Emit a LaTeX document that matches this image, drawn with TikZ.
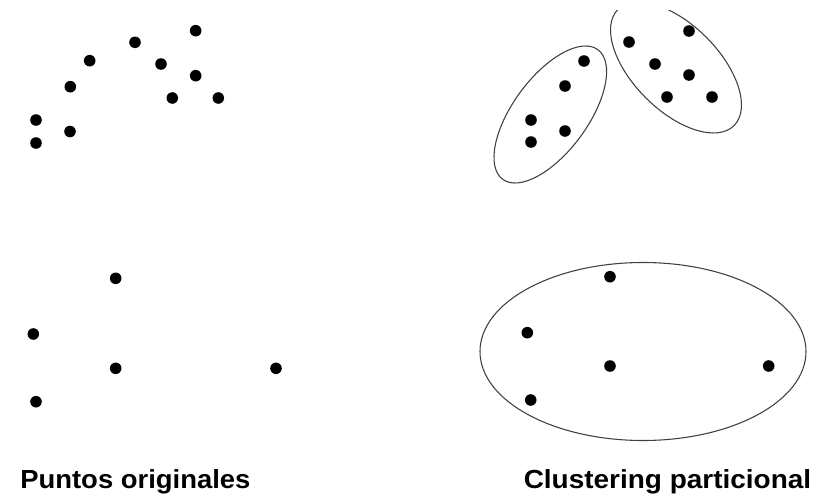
\documentclass[tikz,border=0pt]{standalone}
\usepackage{fontspec}
\setmainfont{Liberation Sans}
\begin{document}
\begin{tikzpicture}[x=0.75pt,y=-0.75pt,
  dot/.style={circle,fill=black,inner sep=0pt,minimum size=8.7pt},
  hull/.style={draw=black!75,line width=0.8pt},
  caption/.style={anchor=base west,inner sep=0pt,font=\bfseries\fontsize{19.6pt}{22pt}\selectfont}]
\useasboundingbox[fill=white] (0,0) rectangle (819,500);

% ---- original points ----
\foreach \n/\x/\y in {a1/36/120, a2/36/143, a3/70/131.5, a4/70.3/86.7, a5/89.7/60.7,
    a6/135/42.3, a7/161/64, a8/195.7/30.7, a9/195.7/75.7, a10/172.3/98, a11/218.3/98,
    a12/115.7/278.3, a13/33.3/334, a14/115.7/368.3, a15/276/368.3, a16/36/401.7}
  \node[dot] (\n) at (\x,\y) {};

% ---- partitioned points ----
\foreach \n/\x/\y in {b1/584/61, b2/565/86, b3/531/120, b4/531/142, b5/565/131,
    b6/629/42, b7/689/31, b8/655/64, b9/689/75, b10/667/97, b11/712/97,
    b12/610/276.7, b13/527.3/332.7, b14/610/366, b15/768.7/366, b16/530.7/400}
  \node[dot] (\n) at (\x,\y) {};

% ---- cluster outlines ----
\draw[hull,rotate around={53.75:(550.3,114.5)}] (550.3,114.5) ellipse [x radius=80.4, y radius=37.4];
\begin{scope}
  \clip (0,10) rectangle (819,500);
  \draw[hull,rotate around={-45:(676,67.5)}] (676,67.5) ellipse [x radius=82.1, y radius=42.8];
\end{scope}
\draw[hull] (643,351.5) ellipse [x radius=163, y radius=89];

% ---- captions ----
\node[caption] (left)  at (20,488.5)  {\scalebox{1.05}[1]{Puntos originales}};
\node[caption] (right) at (523.5,488.5) {\scalebox{1.07}[1]{Clustering particional}};
\end{tikzpicture}
\end{document}
